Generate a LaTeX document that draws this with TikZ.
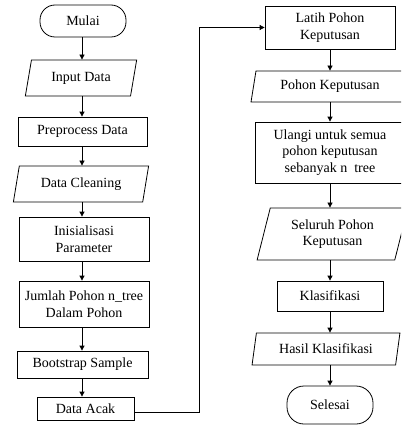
\documentclass[tikz,border=0pt]{standalone}
\usepackage{fontspec}
\setmainfont{Liberation Serif}
\usetikzlibrary{shapes.geometric,arrows.meta}
\begin{document}
\begin{tikzpicture}[x=1pt,y=-1pt,
  every node/.style={font=\fontsize{14}{16.5}\selectfont, inner sep=1pt, align=center},
  procbox/.style={draw, line width=0.8pt, rectangle, minimum width=#1},
  iobox/.style={draw, line width=0.8pt, trapezium, trapezium stretches=true, trapezium left angle=75, trapezium right angle=105},
  termbox/.style={draw, line width=0.8pt, rectangle, rounded corners=15pt, minimum width=86pt},
  arr/.style={draw, line width=0.8pt, -{Triangle[length=5pt,width=5pt]}}
]
\useasboundingbox (0,0) rectangle (401,425);
\clip (0,0) rectangle (401,425);
\fill[white] (0,0) rectangle (401,425);
% left column
\node[termbox, minimum height=32pt] (mulai) at (83,21) {Mulai};
\node[iobox, minimum width=112pt, minimum height=36pt] (input) at (81,78) {Input Data};
\node[procbox=129pt, minimum height=29pt] (prep) at (82.5,131.5) {Preprocess Data};
\node[iobox, minimum width=136pt, minimum height=36pt] (clean) at (81,184) {Data Cleaning};
\node[procbox=130pt, minimum height=44pt] (init) at (84,239) {Inisialisasi\\Parameter};
\node[procbox=130pt, minimum height=46pt] (jumlah) at (84,304) {Jumlah Pohon n\_tree\\Dalam Pohon};
\node[procbox=131pt, minimum height=27pt] (boot) at (82.5,364.5) {Bootstrap Sample};
\node[procbox=97pt, minimum height=23pt] (acak) at (85.5,408.5) {Data Acak};
% right column
\node[procbox=130pt, minimum height=43pt] (latih) at (330,27.5) {Latih Pohon\\Keputusan};
\node[iobox, trapezium left angle=77, trapezium right angle=103, minimum width=158pt, minimum height=31pt] (pohon) at (330,86.5) {Pohon Keputusan};
\node[procbox=150pt, minimum height=61pt] (ulangi) at (330,152.5) {Ulangi untuk semua\\pohon keputusan\\sebanyak n~~tree};
\node[iobox, trapezium left angle=74, trapezium right angle=106, minimum width=151pt, minimum height=52pt] (seluruh) at (332.5,234) {Seluruh Pohon\\Keputusan};
\node[procbox=106pt, minimum height=30pt] (klas) at (330,296) {Klasifikasi};
\node[iobox, trapezium left angle=76, trapezium right angle=104, minimum width=148pt, minimum height=32pt] (hasil) at (326,349) {Hasil Klasifikasi};
\node[termbox, minimum height=38pt, rounded corners=17pt] (selesai) at (330,405) {Selesai};
\coordinate (bend) at (199,0);
% connectors
\path[arr] (mulai.south -| 82,0) -- (82,0 |- input.north);
\path[arr] (input.south -| 82,0) -- (82,0 |- prep.north);
\path[arr] (prep.south -| 82,0) -- (82,0 |- clean.north);
\path[arr] (clean.south -| 82,0) -- (82,0 |- init.north);
\path[arr] (init.south -| 82,0) -- (82,0 |- jumlah.north);
\path[arr] (jumlah.south -| 82,0) -- (82,0 |- boot.north);
\path[arr] (boot.south -| 82,0) -- (82,0 |- acak.north);
\path[arr] ([yshift=-4pt]acak.east) -| (bend |- latih.west) -- (latih.west);
\path[arr] (latih.south -| 330,0) -- (330,0 |- pohon.north);
\path[arr] (pohon.south -| 330,0) -- (330,0 |- ulangi.north);
\path[arr] (ulangi.south -| 330,0) -- (330,0 |- seluruh.north);
\path[arr] (seluruh.south -| 330,0) -- (330,0 |- klas.north);
\path[arr] (klas.south -| 330,0) -- (330,0 |- hasil.north);
\path[arr] (hasil.south -| 330,0) -- (330,0 |- selesai.north);
\end{tikzpicture}
\end{document}
